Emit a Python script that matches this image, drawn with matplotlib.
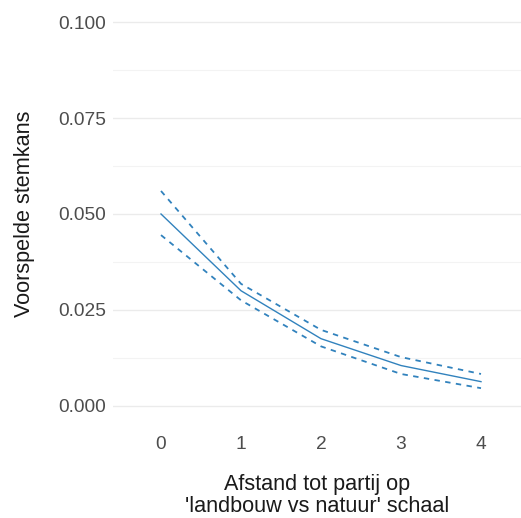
import matplotlib
matplotlib.use('Agg')
import matplotlib.pyplot as plt
from matplotlib.ticker import MultipleLocator

plt.rcParams['font.family'] = ['Liberation Sans', 'DejaVu Sans']

# Predicted vote probability by distance on the 'landbouw vs natuur' scale
afstand = [0, 1, 2, 3, 4]
voorspeld = [0.0500, 0.0300, 0.0175, 0.0105, 0.0063]
bovengrens = [0.0560, 0.0318, 0.0198, 0.0127, 0.0083]
ondergrens = [0.0445, 0.0275, 0.0155, 0.0083, 0.0046]

kleur = '#3182bd'

fig = plt.figure(figsize=(5.21, 5.18), dpi=100)
ax = fig.add_axes([113 / 521, 1 - 425 / 518, 408 / 521, 422 / 518])

ax.plot(afstand, voorspeld, color=kleur, lw=1.0)
ax.plot(afstand, bovengrens, color=kleur, lw=1.3, ls=(0, (3, 3)))
ax.plot(afstand, ondergrens, color=kleur, lw=1.3, ls=(0, (3, 3)))

ax.set_xlim(-0.6, 4.5)
ax.set_ylim(-0.005, 0.105)
ax.set_xticks(afstand)
ax.yaxis.set_major_locator(MultipleLocator(0.025))
ax.yaxis.set_minor_locator(MultipleLocator(0.0125))
ax.yaxis.set_major_formatter(plt.FuncFormatter(lambda v, p: f'{v:.3f}'))

ax.grid(axis='y', which='major', color='#ebebeb', lw=1.0)
ax.grid(axis='y', which='minor', color='#f3f3f3', lw=0.8)
ax.grid(axis='x', visible=False)
ax.set_axisbelow(True)
for s in ax.spines.values():
    s.set_visible(False)

ax.tick_params(axis='both', which='both', length=0, labelsize=13.8, colors='#4d4d4d')
ax.tick_params(axis='y', pad=5)
ax.tick_params(axis='x', pad=8)

ax.set_ylabel('Voorspelde stemkans', fontsize=15.6, color='#1a1a1a', labelpad=17)
ax.set_xlabel("Afstand tot partij op\n'landbouw vs natuur' schaal", fontsize=15.6,
              color='#1a1a1a', labelpad=15, linespacing=1.05)

fig.savefig('out.png', dpi=100)
